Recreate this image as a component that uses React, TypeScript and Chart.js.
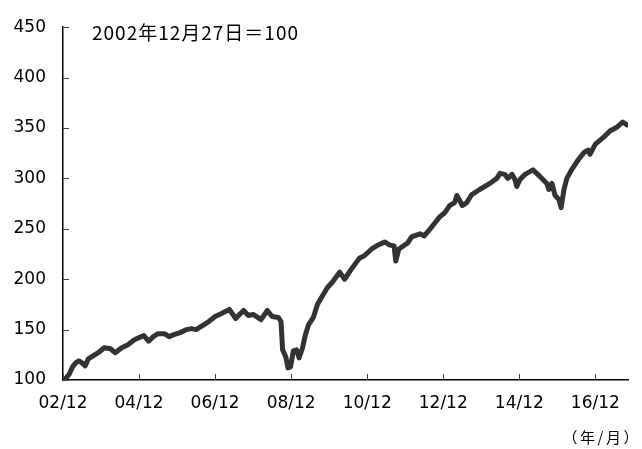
import React, { useEffect, useRef } from "react";
import { Chart, registerables } from "chart.js";

Chart.register(...registerables);

// months elapsed since 2002/12
const months: number[] = [
  0, 1, 2, 3, 4, 5, 6, 7, 8, 10, 11.5, 13, 15, 16.5, 18.5, 20.5, 22.5, 24, 25.5, 27, 28.5, 30, 32, 33.5, 35, 37, 39,
  40.5, 42, 44, 46, 48, 50, 52.5, 54.5, 56, 57, 58.5, 60, 62.5, 64.5, 66, 68, 68.8, 69.3, 70.3, 71, 71.8, 72.7, 73.7,
  74.5, 75.6, 76.5, 77.5, 79, 80.3, 82, 83.5, 85, 87.3, 88.9, 91, 93.6, 95, 97.4, 99.5, 101.5, 103, 104.5, 105, 106,
  108.8, 110, 112.6, 114, 116.4, 118.9, 120.5, 122, 123.6, 124.3, 125.2, 126, 127.4, 129, 131.5, 134.7, 136.9, 137.9,
  139.4, 140.4, 141.7, 142.6, 143.2, 144.2, 145.8, 148.3, 150.5, 152.7, 153.3, 154.3, 155.3, 156.5, 157.2, 158.1, 159,
  160.6, 162.5, 164.5, 165.7, 166.3, 168, 169.5, 171, 172.6, 174.9, 176.6, 178,
];

const indexValues: number[] = [
  100, 102, 106, 113, 117, 119, 117, 114, 121, 125, 128, 132, 131, 127, 132, 135, 140, 142, 144, 138.5, 143, 146, 146,
  143, 145, 147, 150, 151, 150, 154, 158, 163, 166, 170, 161, 166, 169, 164, 165, 160, 169, 163, 162, 158, 130, 123,
  112, 113, 129, 130, 122, 132, 145, 155, 162, 175, 184, 192, 197, 207, 200, 210, 221, 223, 230, 234, 237, 234, 233,
  218, 230, 236, 242, 245, 243, 252, 262, 266, 273, 276, 283, 278, 273, 276, 284, 289, 295, 300, 305, 304, 300, 304,
  299, 292, 299, 304, 308.5, 302, 295, 289, 295, 283, 279, 271, 289, 300, 309, 318, 326, 328, 324, 334, 338, 342, 347,
  351, 356, 353,
];

const xTickValues: number[] = [0, 24, 48, 72, 96, 120, 144, 168];
const xTickLabels: string[] = ["02/12", "04/12", "06/12", "08/12", "10/12", "12/12", "14/12", "16/12"];
const yTickValues: number[] = [100, 150, 200, 250, 300, 350, 400, 450];

const noteText = "2002年12月27日＝100";
const unitText = "（年/月）";

const tickFont = "'DejaVu Sans', 'Noto Sans CJK JP', sans-serif";
const cjkFont = "'Noto Sans CJK JP', sans-serif";

export default function App() {
  const ref = useRef<HTMLCanvasElement | null>(null);

  useEffect(() => {
    if (!ref.current) return;

    const decor = {
      id: "decor",
      afterDraw(chart: any) {
        const ctx = chart.ctx as CanvasRenderingContext2D;
        const xs = chart.scales.x;
        const ys = chart.scales.y;
        const area = chart.chartArea;
        ctx.save();
        ctx.strokeStyle = "#444";
        ctx.lineWidth = 1;
        ctx.beginPath();
        for (const v of yTickValues) {
          const py = Math.round(ys.getPixelForValue(v)) + 0.5;
          ctx.moveTo(area.left, py);
          ctx.lineTo(area.left + 6, py);
        }
        for (const v of xTickValues) {
          const px = Math.round(xs.getPixelForValue(v)) + 0.5;
          ctx.moveTo(px, area.bottom);
          ctx.lineTo(px, area.bottom - 6);
        }
        ctx.stroke();

        ctx.fillStyle = "#000";
        ctx.font = `19px ${cjkFont}`;
        (ctx as any).letterSpacing = "1px";
        ctx.textAlign = "left";
        ctx.textBaseline = "alphabetic";
        ctx.fillText(noteText, 92, 39.5);

        ctx.font = `15px ${cjkFont}`;
        (ctx as any).letterSpacing = "2.5px";
        ctx.textAlign = "right";
        ctx.fillText(unitText, 641, 443);
        (ctx as any).letterSpacing = "0px";
        ctx.restore();
      },
    };

    const chart = new Chart(ref.current, {
      type: "line",
      data: {
        datasets: [
          {
            data: months.map((m, i) => ({ x: m, y: indexValues[i] })),
            borderColor: "#333333",
            borderWidth: 5,
            pointRadius: 0,
            tension: 0,
            borderJoinStyle: "round",
            borderCapStyle: "round",
            fill: false,
          },
        ],
      },
      options: {
        animation: false,
        responsive: false,
        maintainAspectRatio: false,
        devicePixelRatio: 1,
        layout: { padding: { left: 0, right: 14, top: 16, bottom: 0 } },
        plugins: { legend: { display: false }, tooltip: { enabled: false } },
        scales: {
          x: {
            type: "linear",
            min: 0,
            max: 178.3,
            afterBuildTicks: (s: any) => {
              s.ticks = xTickValues.map((v) => ({ value: v }));
            },
            afterFit: (s: any) => {
              s.height = 69;
            },
            grid: { display: false, drawTicks: false },
            border: { display: true, color: "#000", width: 1.5 },
            ticks: {
              autoSkip: false,
              maxRotation: 0,
              padding: 13,
              color: "#000",
              font: { family: tickFont, size: 17 },
              callback: (v: any) => {
                const i = xTickValues.indexOf(Number(v));
                return i >= 0 ? xTickLabels[i] : "";
              },
            },
          },
          y: {
            type: "linear",
            min: 100,
            max: 450,
            afterBuildTicks: (s: any) => {
              s.ticks = yTickValues.map((v) => ({ value: v }));
            },
            afterFit: (s: any) => {
              s.width = 63;
            },
            grid: { display: false, drawTicks: false },
            border: { display: true, color: "#000", width: 1.5 },
            ticks: {
              padding: 17,
              color: "#000",
              font: { family: tickFont, size: 17 },
            },
          },
        },
      },
      plugins: [decor],
    } as any);

    return () => chart.destroy();
  }, []);

  return (
    <div style={{ position: "fixed", left: 0, top: 0, width: 642, height: 449, background: "#fff" }}>
      <canvas ref={ref} width={642} height={449} style={{ width: 642, height: 449, display: "block" }} />
    </div>
  );
}
